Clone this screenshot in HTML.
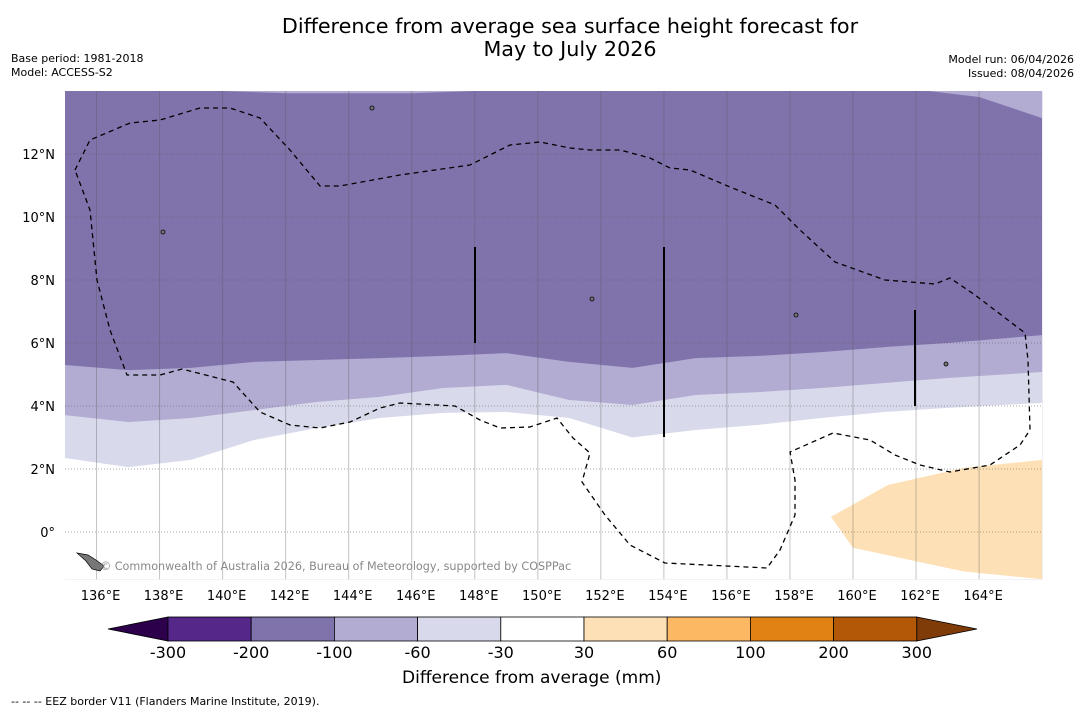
<!DOCTYPE html>
<html><head><meta charset="utf-8">
<style>
body{margin:0;background:#fff;font-family:"DejaVu Sans","Liberation Sans",sans-serif;}
#wrap{position:relative;width:1085px;height:713px;overflow:hidden;background:#fff}
.t{position:absolute;white-space:nowrap;color:#000}
svg text{font-family:"DejaVu Sans","Liberation Sans",sans-serif;}
</style></head>
<body>
<div id="wrap">
<div class="t" style="left:0;width:1140px;top:15px;text-align:center;font-size:20.7px;line-height:23px">Difference from average sea surface height forecast for<br>May to July 2026</div>
<div class="t" style="left:11px;top:52px;font-size:11px;line-height:14px">Base period: 1981-2018<br>Model: ACCESS-S2</div>
<div class="t" style="right:11px;top:53px;font-size:11px;line-height:14px;text-align:right">Model run: 06/04/2026<br>Issued: 08/04/2026</div>
<svg id="map" width="1085" height="713" style="position:absolute;left:0;top:0"></svg>
<div class="t" style="left:402px;top:668px;font-size:17px">Difference from average (mm)</div>
<div class="t" style="left:11px;top:695px;font-size:11px">--  --  -- EEZ border V11 (Flanders Marine Institute, 2019).</div>
</div>
<script>
const NS="http://www.w3.org/2000/svg";
const svg=document.getElementById('map');
const lons=[135,137,139,141,143,145,147,149,151,153,155,157,159,161,163,166];
const boundaryDark=[5.30,5.14,5.21,5.40,5.46,5.52,5.59,5.68,5.40,5.21,5.52,5.59,5.71,5.87,6.0,6.25];
const boundaryMid=[3.71,3.49,3.62,3.87,4.13,4.29,4.57,4.67,4.19,4.03,4.35,4.44,4.57,4.73,4.89,5.08];
const boundaryLight=[2.35,2.06,2.29,2.92,3.30,3.62,3.78,3.81,3.62,3.0,3.24,3.40,3.62,3.81,3.94,4.10];
const topRightLons=[162.4,164,166];
const topRightLats=[14,13.81,13.14];
const orangeLons=[159.3,161.1,163.5,166,166,163.5,160];
const orangeLats=[0.48,1.49,2.03,2.29,-1.5,-1.25,-0.5];
const lonTicks=[136,138,140,142,144,146,148,150,152,154,156,158,160,162,164];
const latTicks=[0,2,4,6,8,10,12];
const cbLabels=["-300","-200","-100","-60","-30","30","60","100","200","300"];
const cbColors=["#542788","#8073ac","#b2abd2","#d8daeb","#ffffff","#fee0b6","#fdb863","#e08214","#b35806"];
const X=lon=>65+(lon-135)*31.52;
const Y=lat=>91+(14-lat)*31.5;
const L=-1.5;
function el(tag,attrs,name,inter){const e=document.createElementNS(NS,tag);for(const k in attrs)e.setAttribute(k,attrs[k]);


svg.appendChild(e);return e;}
function band(arr,fill,name){let d=`M${X(135)},${Y(L)}`;lons.forEach((l,i)=>d+=` L${X(l)},${Y(arr[i])}`);d+=` L${X(166)},${Y(L)}Z`;el('path',{d,fill},name);}
el('rect',{x:X(135),y:Y(14),width:X(166)-X(135),height:Y(L)-Y(14),fill:'#8073ac'},'band-minus-200-minus-100');
let tp=`M${X(topRightLons[0])},${Y(14)}`;topRightLons.forEach((l,i)=>tp+=` L${X(l)},${Y(topRightLats[i])}`);tp+=` L${X(166)},${Y(14)}Z`;
el('path',{d:tp,fill:'#b2abd2'},'band-top-right-minus-100');
el('path',{d:`M${X(140)},${Y(14)} L${X(148)},${Y(14)} L${X(146)},${Y(13.93)} L${X(142)},${Y(13.93)}Z`,fill:'#b2abd2'},'band-top-strip');
band(boundaryDark,'#b2abd2','band-minus-100-minus-60');
band(boundaryMid,'#d8daeb','band-minus-60-minus-30');
band(boundaryLight,'#ffffff','band-neutral');
let od='';orangeLons.forEach((l,i)=>od+=(i?' L':'M')+X(l)+','+Y(orangeLats[i]));
el('path',{d:od+'Z',fill:'#fde0b6'},'band-30-60');
lonTicks.forEach(l=>{el('line',{x1:X(l),x2:X(l),y1:Y(14),y2:Y(L),stroke:'#555','stroke-opacity':0.35,'stroke-width':1},'lon-gridline');
const t=el('text',{x:X(l)+4,y:600,'text-anchor':'middle','font-size':13,fill:'#000'},'lon-tick-label');t.textContent=l+'°E';});
latTicks.forEach(l=>{el('line',{x1:X(135),x2:X(166),y1:Y(l),y2:Y(l),stroke:'#555','stroke-opacity':0.5,'stroke-width':1,'stroke-dasharray':'1,2'},'lat-gridline');
const t=el('text',{x:55,y:Y(l)+5,'text-anchor':'end','font-size':13,fill:'#000'},'lat-tick-label');t.textContent=l===0?'0°':l+'°N';});
const eez=[[75,170],[90,140],[130,123],[160,120],[200,108],[230,108],[260,118],[290,150],[320,186],[340,186],[400,175],[470,165],[490,155],[510,145],[540,142],[570,148],[590,150],[620,150],[650,158],[670,168],[690,170],[730,187],[775,205],[800,230],[835,262],[885,280],[935,284],[950,278],[975,295],[1025,333],[1028,360],[1030,430],[1020,445],[990,465],[950,472],[920,465],[895,455],[870,440],[833,433],[790,452],[795,480],[795,515],[780,550],[767,568],[665,563],[630,545],[605,515],[582,482],[590,453],[573,438],[557,418],[530,427],[500,428],[480,420],[455,406],[400,403],[380,408],[350,422],[320,428],[290,425],[260,412],[233,382],[182,369],[160,375],[127,375],[110,330],[97,280],[90,210],[75,170]];
el('path',{d:'M'+eez.map(p=>p.join(',')).join(' L'),fill:'none',stroke:'#000','stroke-width':1.3,'stroke-dasharray':'5,4'},'eez-border');
[[475,247,343],[664,247,437],[915,310,406]].forEach(v=>el('line',{x1:v[0],x2:v[0],y1:v[1],y2:v[2],stroke:'#000','stroke-width':2},'eez-segment'));
el('path',{d:'M77,553 L88,555 L96,560 L104,566 L100,571 L92,569 L86,561 Z',fill:'#777',stroke:'#000','stroke-width':0.7},'island-bougainville');
[[372,108],[163,232],[592,299],[796,315],[946,364]].forEach(p=>el('ellipse',{cx:p[0],cy:p[1],rx:2,ry:2,fill:'#777',stroke:'#000','stroke-width':0.8},'island'));
const wm=el('text',{x:100,y:570,'font-size':11.2,fill:'#888'},'copyright-watermark');wm.textContent='© Commonwealth of Australia 2026, Bureau of Meteorology, supported by COSPPac';
const cx0=168,cw=83.2,cy=617,ch=24;
el('path',{d:`M108,${cy+ch/2} L${cx0},${cy} L${cx0},${cy+ch}Z`,fill:'#2d004b',stroke:'#000','stroke-width':0.8},'colorbar-low-extend');
cbColors.forEach((c,i)=>el('rect',{x:cx0+i*cw,y:cy,width:cw,height:ch,fill:c,stroke:'#000','stroke-width':0.8},'colorbar-segment'));
const ce=cx0+cbColors.length*cw;
el('path',{d:`M${ce},${cy} L977,${cy+ch/2} L${ce},${cy+ch}Z`,fill:'#7f3b08',stroke:'#000','stroke-width':0.8},'colorbar-high-extend');
cbLabels.forEach((s,i)=>{const t=el('text',{x:cx0+i*cw,y:658,'text-anchor':'middle','font-size':16,fill:'#000'},'colorbar-tick-label');t.textContent=s;});
</script>
</body></html>
